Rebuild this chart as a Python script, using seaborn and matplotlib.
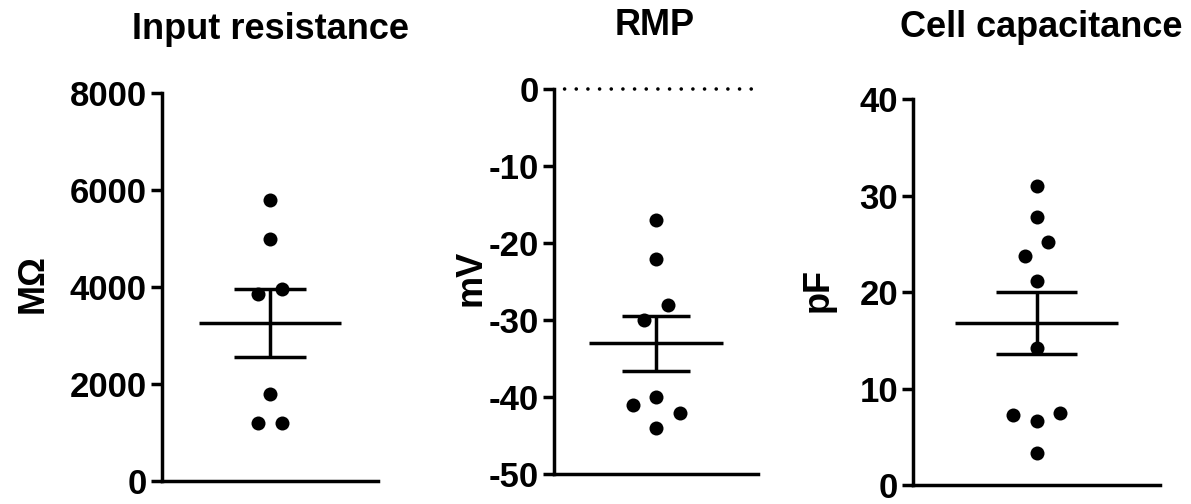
import numpy as np
import pandas as pd
import matplotlib
matplotlib.use("Agg")
import matplotlib.pyplot as plt
import seaborn as sns

# ---- data ----
titles = ["Input resistance", "RMP", "Cell capacitance"]
ylabels = ["M\u03a9", "mV", "pF"]

input_resistance = [5800, 5000, 3850, 3950, 1800, 1200, 1200]
rmp = [-17, -22, -30, -28, -40, -41, -42, -44]
cell_capacitance = [31.0, 27.8, 23.7, 25.2, 21.2, 14.2, 6.6, 7.3, 7.5, 3.3]

yticks_ir = [0, 2000, 4000, 6000, 8000]
yticks_rmp = [0, -10, -20, -30, -40, -50]
yticks_cc = [0, 10, 20, 30, 40]

sns.set_theme(style="ticks")
plt.rcParams['font.family'] = ['Liberation Sans', 'DejaVu Sans']
plt.rcParams['font.weight'] = 'bold'
plt.rcParams['axes.unicode_minus'] = False

W, H = 1191, 504
fig = plt.figure(figsize=(W / 100, H / 100), dpi=100)
fig.patch.set_facecolor('white')


def add_axes(left, right, top, bottom):
    return fig.add_axes([left / W, 1 - bottom / H, (right - left) / W, (bottom - top) / H])


axes = [add_axes(162, 378, 93, 481),
        add_axes(554, 758, 89.3, 474.3),
        add_axes(913.3, 1160, 99.3, 485)]

datasets = [input_resistance, rmp, cell_capacitance]
ticks = [yticks_ir, yticks_rmp, yticks_cc]
title_x = [270, 655, 1041]
title_base = [39, 35, 37]
label_x = [-0.597, -0.407, -0.386]
label_y = [0.508, 0.51, 0.505]

DOT_PX = 14.0


def scatter_offsets(ax, vals, ylim, group_px=17.0, step_px=23.5):
    """Prism-like symmetric scatter layout: values that lie close together
    (in pixels) are spread horizontally and centred on the column."""
    pos = ax.get_position()
    w_px = pos.width * W
    ppu = pos.height * H / (ylim[1] - ylim[0])
    order = np.argsort(-vals, kind='stable')
    groups, cur, start = [], [], None
    for i in order:
        if start is None or (start - vals[i]) * ppu <= group_px:
            if start is None:
                start = vals[i]
            cur.append(i)
        else:
            groups.append(cur)
            cur, start = [i], vals[i]
    groups.append(cur)
    xs = np.zeros(len(vals))
    for g in groups:
        g = sorted(g)
        n = len(g)
        if n % 2:
            slots = [0] + [s for k in range(1, n // 2 + 1) for s in (-k, k)]
        else:
            slots = [s for k in range(n // 2) for s in (-(k + 0.5), k + 0.5)]
        for idx, sl in zip(g, slots):
            xs[idx] = sl * step_px / w_px
    return xs


LW = 2.5
for ax, data, tk, lab, lx, ly in zip(axes, datasets, ticks, ylabels, label_x, label_y):
    ax.set_facecolor('white')
    vals = np.asarray(data, dtype=float)
    ylim = (min(tk), max(tk))
    mean = vals.mean()
    sem = vals.std(ddof=1) / np.sqrt(len(vals))

    xs = scatter_offsets(ax, vals, ylim)
    df = pd.DataFrame({'x': xs, 'y': vals})
    sns.scatterplot(data=df, x='x', y='y', ax=ax, color='black',
                    s=(DOT_PX * 72 / 100) ** 2, linewidth=0, zorder=3, legend=False)

    ax.hlines(mean, -0.33, 0.33, color='black', lw=LW, zorder=2)
    ax.hlines([mean - sem, mean + sem], -0.165, 0.165, color='black', lw=LW, zorder=2)
    ax.vlines(0, mean - sem, mean + sem, color='black', lw=LW, zorder=2)

    ax.set_xlim(-0.5, 0.5)
    ax.set_ylim(*ylim)
    ax.set_yticks(tk)
    ax.set_xticks([])
    ax.set_xlabel('')
    for s in ['top', 'right']:
        ax.spines[s].set_visible(False)
    for s in ['left', 'bottom']:
        ax.spines[s].set_linewidth(LW)
        ax.spines[s].set_color('black')
    ax.tick_params(axis='y', length=8, width=LW, pad=3, labelsize=25,
                   color='black', labelcolor='black', direction='out')
    for t in ax.get_yticklabels():
        t.set_fontweight('bold')
    ax.set_ylabel(lab, fontsize=26, fontweight='bold', color='black', va='center')
    ax.yaxis.set_label_coords(lx, ly)

# dotted zero line on the RMP panel
axes[1].axhline(0, xmin=0, xmax=0.97, color='black', lw=2.6,
                linestyle=(0.3, (0.01, 3.22)), dash_capstyle='round', zorder=1, clip_on=False)

for t, x, yb in zip(titles, title_x, title_base):
    fig.text(x / W, 1 - yb / H, t, ha='center', va='baseline', fontsize=26,
             fontweight='bold', color='black')

fig.savefig('out.png', dpi=100, facecolor='white')
